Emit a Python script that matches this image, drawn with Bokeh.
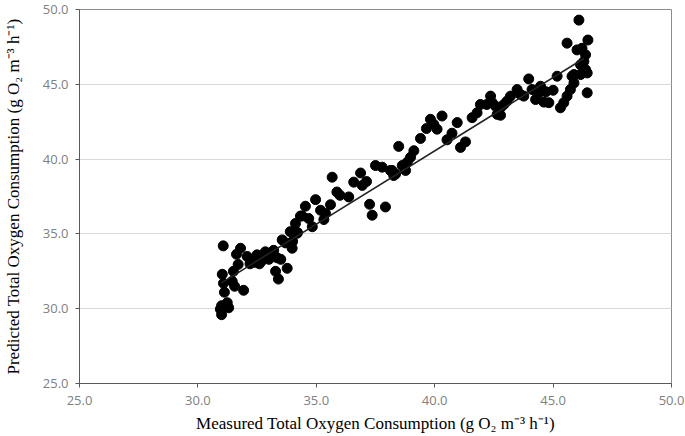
from bokeh.plotting import figure
from bokeh.models import Range1d, FixedTicker, PrintfTickFormatter, ColumnDataSource
from bokeh.embed import file_html
from bokeh.resources import INLINE

measured = [
    31.07, 31.8, 31.63, 32.08, 32.3, 32.5, 32.7, 32.9, 33.1, 32.6, 31.7, 31.5, 31.03, 31.08,
    31.45, 31.55, 31.12, 31.93, 33.77, 33.4, 33.28, 33.98, 34.2, 30.95, 31.0, 31.3, 31.24, 31.0,
    32.2, 32.4, 33.2, 33.0, 33.35, 32.85, 33.5,
    33.56, 34.12, 34.19, 33.9, 34.33, 34.54, 34.68, 34.83, 34.97, 35.18, 35.39, 35.32, 35.6,
    35.67, 35.87, 36.0, 36.37, 36.58, 36.87, 36.94, 37.12, 37.25, 37.36, 37.5, 37.78, 37.92,
    38.13, 38.27, 34.4, 33.7, 34.0,
    38.2, 38.35, 38.48, 38.63, 38.77, 38.84, 38.98, 39.12, 39.4, 39.65, 39.82, 39.96, 40.1,
    40.31, 40.52, 40.73, 40.95, 41.09, 41.3, 41.58, 41.79, 41.93, 42.2, 42.64,
    42.36, 42.43, 42.57, 42.78, 42.78, 42.92, 43.06, 43.2, 43.48, 43.62, 43.76, 43.97, 44.11,
    44.26, 44.4, 44.47, 44.61, 44.82, 45.17, 45.31, 45.45, 45.59, 45.73, 45.8, 45.88, 46.16,
    46.37, 46.44, 44.7, 45.0,
    46.09, 45.59, 46.47, 46.01, 46.22, 46.37, 46.3, 46.37, 46.16, 46.44, 45.88,
]
predicted = [
    34.2, 34.04, 33.64, 33.49, 33.3, 33.6, 33.2, 33.5, 33.7, 33.0, 32.96, 32.5, 32.3, 31.7,
    31.83, 31.5, 31.1, 31.23, 32.7, 31.98, 32.5, 34.04, 35.1, 29.97, 29.6, 30.06, 30.4, 30.2,
    33.0, 33.1, 33.9, 33.3, 33.4, 33.8, 33.3,
    34.6, 35.7, 35.04, 35.15, 36.19, 36.85, 36.03, 35.48, 37.29, 36.58, 36.36, 35.96, 36.95,
    38.79, 37.8, 37.58, 37.47, 38.46, 39.07, 38.24, 38.5, 36.98, 36.25, 39.57, 39.46, 36.8,
    39.24, 38.9, 36.2, 34.4, 34.5,
    39.24, 39.01, 40.85, 39.57, 39.24, 39.79, 40.12, 40.56, 41.38, 42.04, 42.66, 42.33, 42.0,
    42.88, 41.29, 41.73, 42.44, 40.78, 41.15, 42.77, 43.1, 43.65, 43.65, 42.99,
    44.21, 43.77, 43.54, 43.43, 42.93, 43.65, 43.88, 44.21, 44.65, 44.32, 44.21, 45.36, 44.65,
    43.98, 44.43, 44.87, 43.81, 43.77, 45.54, 43.43, 43.77, 44.21, 44.65, 45.54, 45.09, 46.3,
    45.87, 44.43, 44.5, 44.6,
    49.29, 47.75, 47.96, 47.3, 47.41, 46.97, 46.53, 45.98, 45.65, 45.76, 45.65,
]

fit_slope = 0.98
fit_intercept = 1.35
fit_x = [31.0, 46.3]
fit_y = [fit_slope * v + fit_intercept for v in fit_x]

ticks = [25, 30, 35, 40, 45, 50]

p = figure(width=685, height=436, output_backend="svg", toolbar_location=None,
           x_range=Range1d(25, 50), y_range=Range1d(25, 50),
           min_border_left=79, min_border_right=14, min_border_top=9, min_border_bottom=53)

p.outline_line_color = "#8c8c8c"
p.outline_line_width = 1
p.background_fill_color = "white"
p.border_fill_color = "white"

p.xgrid.grid_line_color = None
p.ygrid.grid_line_color = "#d9d9d9"
p.ygrid.grid_line_width = 1

for ax in (p.xaxis[0], p.yaxis[0]):
    ax.ticker = FixedTicker(ticks=ticks)
    ax.formatter = PrintfTickFormatter(format="%.1f")
    ax.axis_line_color = "#595959"
    ax.major_tick_line_color = "#595959"
    ax.major_tick_out = 4
    ax.major_tick_in = 0
    ax.minor_tick_line_color = None
    ax.major_label_text_font = "Open Sans"
    ax.major_label_text_font_size = "13px"
    ax.major_label_text_color = "#808080"
    ax.axis_label_text_font = "Liberation Serif"
    ax.axis_label_text_font_size = "17px"
    ax.axis_label_text_font_style = "normal"
    ax.axis_label_text_color = "#000000"

p.xaxis[0].axis_label = "Measured Total Oxygen Consumption (g O\u2082 m\u207b\u00b3 h\u207b\u00b9)"
p.yaxis[0].axis_label = "Predicted Total Oxygen Consumption (g O\u2082 m\u207b\u00b3 h\u207b\u00b9)"
p.xaxis[0].major_label_standoff = 8
p.xaxis[0].axis_label_standoff = 6
p.yaxis[0].major_label_standoff = 7
p.yaxis[0].axis_label_standoff = 17

src = ColumnDataSource(data=dict(x=measured, y=predicted))
p.scatter("x", "y", source=src, size=10, fill_color="black", line_color="black")
p.line(fit_x, fit_y, line_color="#222222", line_width=1.5)

open("out.html", "w").write(file_html(p, INLINE))
